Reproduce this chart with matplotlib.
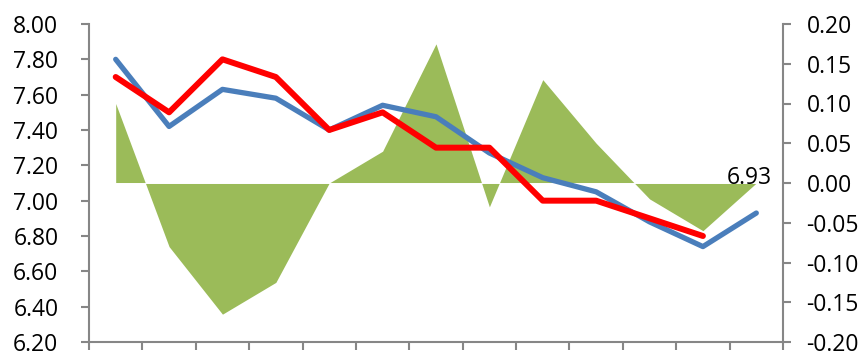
import matplotlib
matplotlib.use('Agg')
from matplotlib import pyplot as plt
import numpy as np

# values
blue = [7.80, 7.42, 7.63, 7.58, 7.40, 7.54, 7.475, 7.27, 7.13, 7.05, 6.88, 6.74, 6.93]
red = [7.70, 7.50, 7.80, 7.70, 7.40, 7.50, 7.30, 7.30, 7.00, 7.00, 6.90, 6.80]
diff = [0.10, -0.08, -0.165, -0.125, 0.00, 0.04, 0.175, -0.03, 0.13, 0.05, -0.02, -0.06, 0.00]
leftTicks = [6.20, 6.40, 6.60, 6.80, 7.00, 7.20, 7.40, 7.60, 7.80, 8.00]
rightTicks = [-0.20, -0.15, -0.10, -0.05, 0.00, 0.05, 0.10, 0.15, 0.20]
lastLabel = '6.93'

plt.rcParams['font.family'] = ['Open Sans', 'DejaVu Sans']
grey = '#868686'

fig = plt.figure(figsize=(8.67, 3.56), dpi=100)
ax = fig.add_axes([89/867, 14/356, 694/867, 318/356])
ax2 = ax.twinx()
ax.set_zorder(ax2.get_zorder() + 1)
ax.patch.set_visible(False)

x = np.arange(len(blue))
xr = np.arange(len(red))
xd = np.arange(len(diff))

# difference area on right axis
ax2.fill_between(xd, diff, 0, color='#9BBB59', linewidth=0)
ax2.plot([xd[0], xd[-1]], [0, 0], color='white', lw=0.7)
ax2.set_ylim(-0.20, 0.20)
ax2.set_yticks(rightTicks)
ax2.set_yticklabels(['%.2f' % v for v in rightTicks])

# lines on left axis
ax.plot(x, blue, color='#4A7EBB', lw=3.8, solid_capstyle='round', zorder=3)
ax.plot(xr, red, color='#FF0000', lw=4.3, solid_capstyle='round', zorder=4)
ax.annotate(lastLabel, (x[-1], blue[-1]), xytext=(-5, 25), textcoords='offset points',
            ha='center', va='center', fontsize=16.5)
ax.set_ylim(6.20, 8.00)
ax.set_yticks(leftTicks)
ax.set_yticklabels(['%.2f' % v for v in leftTicks])

ax.set_xlim(-0.5, len(blue) - 0.5)
ax.set_xticks(np.arange(len(blue) + 1) - 0.5)
ax.set_xticklabels([])

for a in (ax, ax2):
    for s in a.spines.values():
        s.set_visible(False)
ax.spines['left'].set_visible(True)
ax.spines['bottom'].set_visible(True)
ax2.spines['right'].set_visible(True)
for s in (ax.spines['left'], ax.spines['bottom'], ax2.spines['right']):
    s.set_color(grey)
    s.set_linewidth(1.5)

ax.tick_params(axis='y', direction='out', length=6, width=1.5, color=grey, labelsize=16.5, pad=16)
ax.tick_params(axis='x', direction='out', length=6, width=1.5, color=grey)
ax2.tick_params(axis='y', direction='out', length=6, width=1.5, color=grey, labelsize=16.5, pad=11)

plt.savefig('out.png', dpi=100)
plt.close()
